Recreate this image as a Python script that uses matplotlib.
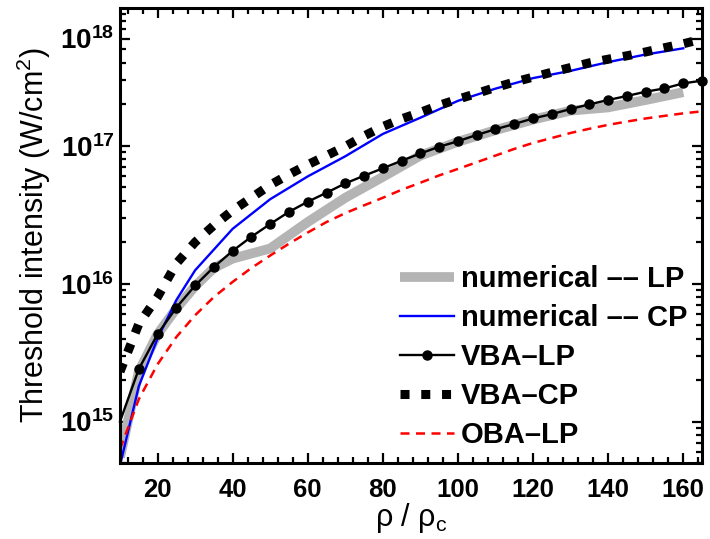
import matplotlib
matplotlib.use("Agg")
import matplotlib.pyplot as plt
from matplotlib.ticker import FixedLocator, LogLocator, MultipleLocator, NullFormatter

plt.rcParams["font.family"] = ["Liberation Sans", "DejaVu Sans"]
plt.rcParams["mathtext.fontset"] = "custom"
plt.rcParams["mathtext.rm"] = "Liberation Sans"
plt.rcParams["mathtext.bf"] = "Liberation Sans:bold"
plt.rcParams["mathtext.it"] = "Liberation Sans:italic"

# --- data -------------------------------------------------------------
# numerical result, linear polarisation
rho_num_lp = [10, 15, 20, 25, 30, 35, 40, 50, 60, 70, 80, 90, 100, 110, 120, 130, 140, 150, 160]
num_lp = [5.5e14, 2.3e15, 4.3e15, 6.6e15, 9.6e15, 1.3e16, 1.52e16, 1.8e16, 2.8e16, 4.2e16,
          5.95e16, 8.5e16, 1.07e17, 1.3e17, 1.55e17, 1.8e17, 1.9e17, 2.15e17, 2.45e17]

# numerical result, circular polarisation
rho_num_cp = [10, 15, 20, 25, 30, 40, 50, 60, 70, 80, 90, 100, 110, 120, 130, 140, 150, 160]
num_cp = [4.8e14, 1.8e15, 4.0e15, 7.6e15, 1.25e16, 2.5e16, 4.1e16, 6.0e16, 8.4e16, 1.22e17,
          1.6e17, 2.12e17, 2.6e17, 3.1e17, 3.5e17, 4.05e17, 4.6e17, 5.1e17]

# analytic models, sampled every 5
rho_model = [10, 15, 20, 25, 30, 35, 40, 45, 50, 55, 60, 65, 70, 75, 80, 85, 90, 95, 100,
             105, 110, 115, 120, 125, 130, 135, 140, 145, 150, 155, 160, 165]
vba_lp = [1.0e15, 2.4e15, 4.3e15, 6.7e15, 9.7e15, 1.32e16, 1.73e16, 2.19e16, 2.71e16, 3.32e16,
          3.93e16, 4.57e16, 5.34e16, 6.07e16, 6.87e16, 7.8e16, 8.8e16, 9.85e16, 1.08e17,
          1.2e17, 1.32e17, 1.44e17, 1.58e17, 1.7e17, 1.85e17, 2.0e17, 2.15e17, 2.3e17,
          2.47e17, 2.61e17, 2.84e17, 2.97e17]
vba_cp = [2.3e15, 5.1e15, 8.0e15, 1.4e16, 2.0e16, 2.65e16, 3.4e16, 4.2e16, 5.2e16, 6.2e16,
          7.3e16, 8.5e16, 9.9e16, 1.18e17, 1.38e17, 1.57e17, 1.75e17, 1.97e17, 2.18e17,
          2.4e17, 2.65e17, 2.9e17, 3.15e17, 3.42e17, 3.7e17, 4.0e17, 4.25e17, 4.5e17,
          4.8e17, 5.15e17, 5.5e17, 5.95e17]
oba_lp = [6.3e14, 1.45e15, 2.6e15, 4.1e15, 5.9e15, 8.0e15, 1.03e16, 1.3e16, 1.6e16, 1.95e16,
          2.35e16, 2.8e16, 3.25e16, 3.7e16, 4.2e16, 4.8e16, 5.4e16, 6.1e16, 6.8e16,
          7.6e16, 8.5e16, 9.5e16, 1.05e17, 1.14e17, 1.24e17, 1.33e17, 1.42e17, 1.5e17,
          1.58e17, 1.65e17, 1.72e17, 1.78e17]

labels = ["numerical \u2013\u2013 LP", "numerical \u2013\u2013 CP", "VBA\u2013LP", "VBA\u2013CP", "OBA\u2013LP"]

x_ticks = [20, 40, 60, 80, 100, 120, 140, 160]
y_ticks = [1e15, 1e16, 1e17, 6e17]
y_tick_labels = [r"$\mathbf{10^{15}}$", r"$\mathbf{10^{16}}$", r"$\mathbf{10^{17}}$", r"$\mathbf{10^{18}}$"]

# --- figure -----------------------------------------------------------
fig = plt.figure(figsize=(7.1, 5.39), dpi=100)
ax = fig.add_axes([120 / 710, 1 - 463 / 539, 582 / 710, 455 / 539])

ax.plot(rho_num_lp, num_lp, color="#b4b4b4", lw=7, solid_capstyle="butt", label=labels[0])
ax.plot(rho_num_cp, num_cp, color="#0000ff", lw=1.7, label=labels[1])
ax.plot(rho_model, vba_lp, color="black", lw=1.7, marker="o", ms=6.5,
        markevery=slice(1, None), clip_on=False, label=labels[2])
ax.plot(rho_model, vba_cp, color="black", lw=6.5, linestyle=(0, (1.0, 1.3)),
        dash_capstyle="butt", label=labels[3])
ax.plot(rho_model, oba_lp, color="#ff0000", lw=1.8, linestyle=(0, (3.6, 2.6)), label=labels[4])

ax.set_yscale("log")
ax.set_xlim(10, 165)
ax.set_ylim(5e14, 1e18)

ax.xaxis.set_major_locator(FixedLocator(x_ticks))
ax.xaxis.set_minor_locator(MultipleLocator(4))
ax.set_xticklabels([str(t) for t in x_ticks], fontsize=18.5, fontweight="bold")

ax.yaxis.set_major_locator(FixedLocator(y_ticks))
ax.yaxis.set_minor_locator(LogLocator(base=10, subs=(2, 3, 4, 5, 6, 7, 8, 9), numticks=20))
ax.yaxis.set_minor_formatter(NullFormatter())
ax.set_yticklabels(y_tick_labels, fontsize=20)

ax.tick_params(which="both", direction="in", top=True, right=True, width=1.6)
ax.tick_params(which="major", length=7)
ax.tick_params(which="minor", length=4)
ax.tick_params(axis="x", which="major", pad=11)
ax.tick_params(axis="y", which="major", pad=4)
for s in ax.spines.values():
    s.set_linewidth(2.2)

ax.set_xlabel("\u03c1 / $\\mathregular{\u03c1_c}$", fontsize=22, labelpad=-1)
ax.set_ylabel("Threshold intensity (W/cm$\\mathregular{^2}$)", fontsize=22, labelpad=5)

leg = ax.legend(loc="lower right", bbox_to_anchor=(0.975, 0.03), frameon=False,
                prop={"weight": "bold", "size": 21}, handlelength=1.85,
                handletextpad=0.25, labelspacing=0.38, borderpad=0, borderaxespad=0)

fig.savefig("out.png", dpi=100)
